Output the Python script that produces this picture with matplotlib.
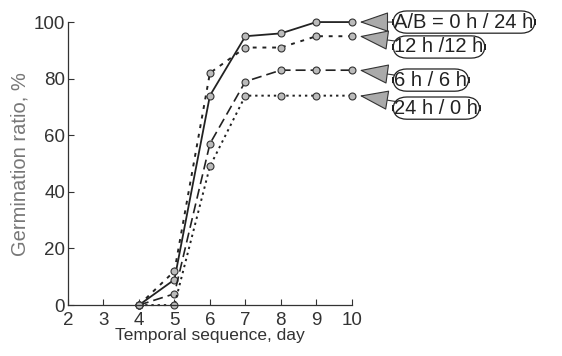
import matplotlib
matplotlib.use("Agg")
import matplotlib.pyplot as plt

plt.rcParams['font.family'] = ['Liberation Sans', 'DejaVu Sans']

# germination ratio (%) against day, one series per light/dark regime
days = [4, 5, 6, 7, 8, 9, 10]
ratio_0_24 = [0, 9, 74, 95, 96, 100, 100]
ratio_12_12 = [0, 12, 82, 91, 91, 95, 95]
ratio_6_6 = [0, 4, 57, 79, 83, 83, 83]
ratio_24_0 = [0, 0, 49, 74, 74, 74, 74]

labels = ['A/B = 0 h / 24 h', '12 h /12 h', '6 h / 6 h', '24 h / 0 h']
label_y = [100.0, 91.2, 79.5, 69.6]

x_ticks = [2, 3, 4, 5, 6, 7, 8, 9, 10]
y_ticks = [0, 20, 40, 60, 80, 100]

fig = plt.figure(figsize=(5.62, 3.56), dpi=100)
ax = fig.add_axes([0.121, 0.143, 0.505, 0.795])

series = [ratio_0_24, ratio_12_12, ratio_6_6, ratio_24_0]
styles = ['-', (0, (2, 3)), (0, (6, 3)), (0, (1.2, 2))]
widths = [1.3, 1.4, 1.2, 1.4]
for vals, ls, lw in zip(series, styles, widths):
    ax.plot(days, vals, color='#222222', ls=ls, lw=lw, marker='o', ms=5,
            mfc='#bbbbbb', mec='#333333', mew=0.8, clip_on=False)

ax.set_xlim(2, 10)
ax.set_ylim(0, 100)
ax.set_xticks(x_ticks)
ax.set_yticks(y_ticks)
ax.tick_params(direction='in', length=4, width=0.8, labelsize=13.5,
               colors='#333333')
ax.tick_params(axis='x', pad=5)
ax.tick_params(axis='y', pad=2)
for side in ('top', 'right'):
    ax.spines[side].set_visible(False)
for side in ('left', 'bottom'):
    ax.spines[side].set_color('#333333')
    ax.spines[side].set_linewidth(0.9)

ax.set_xlabel('Temporal sequence, day', fontsize=12.5, color='#333333',
              labelpad=-1)
ax.set_ylabel('Germination ratio, %', fontsize=14.5, color='#777777',
              labelpad=3)

# labels on the right with arrows pointing at the last point of each curve
for text, ty, vals in zip(labels, label_y, series):
    ax.annotate(text, xy=(10.22, vals[-1]), xytext=(11.2, ty),
                xycoords='data', textcoords='data', ha='left', va='center',
                fontsize=14.5, color='#222222', annotation_clip=False,
                bbox=dict(boxstyle='round,pad=0.08,rounding_size=0.7',
                          fc='white', ec='#222222', lw=0.9),
                arrowprops=dict(arrowstyle='-|>,head_length=1.3,head_width=0.45',
                                fc='#aaaaaa', ec='#333333', lw=0.8,
                                shrinkA=0, shrinkB=0))

fig.savefig('out.png', dpi=100)
